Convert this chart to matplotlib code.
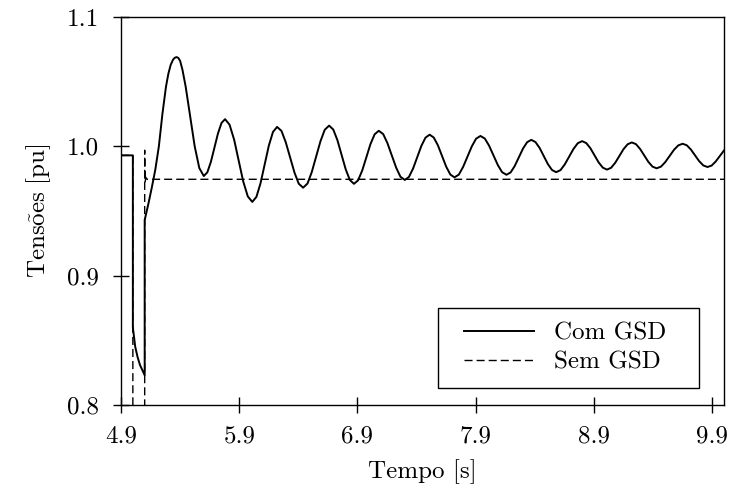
import matplotlib
matplotlib.use("Agg")
import matplotlib.pyplot as plt
from matplotlib.patches import Rectangle

plt.rcParams['font.family'] = 'serif'
plt.rcParams['font.serif'] = ['cmr10']
plt.rcParams['mathtext.fontset'] = 'cm'
plt.rcParams['axes.formatter.use_mathtext'] = True

# Com GSD (solid)
t_com = [4.9, 5.0, 5.0, 5.02, 5.04, 5.06, 5.08, 5.1,
         5.1, 5.13, 5.16, 5.19, 5.22, 5.25, 5.28, 5.30, 5.32, 5.34, 5.355, 5.37,
         5.385, 5.40, 5.42, 5.447, 5.485, 5.523, 5.562, 5.60,
         5.63, 5.66, 5.69, 5.72, 5.75, 5.78,
         5.818, 5.857, 5.895, 5.933, 5.972, 6.01,
         6.045, 6.08, 6.115, 6.15, 6.185, 6.22,
         6.257, 6.293, 6.33, 6.367, 6.403, 6.44,
         6.477, 6.513, 6.55, 6.587, 6.623, 6.66,
         6.695, 6.73, 6.765, 6.80, 6.835, 6.87,
         6.905, 6.94, 6.975, 7.01, 7.045, 7.08,
         7.117, 7.153, 7.19, 7.227, 7.263, 7.30,
         7.335, 7.37, 7.405, 7.44, 7.475, 7.51,
         7.545, 7.58, 7.615, 7.65, 7.685, 7.72,
         7.757, 7.793, 7.83, 7.867, 7.903, 7.94,
         7.977, 8.013, 8.05, 8.087, 8.123, 8.16,
         8.195, 8.23, 8.265, 8.30, 8.335, 8.37,
         8.405, 8.44, 8.475, 8.51, 8.545, 8.58,
         8.617, 8.653, 8.69, 8.727, 8.763, 8.80,
         8.835, 8.87, 8.905, 8.94, 8.975, 9.01,
         9.045, 9.08, 9.115, 9.15, 9.185, 9.22,
         9.255, 9.29, 9.325, 9.36, 9.395, 9.43,
         9.467, 9.503, 9.54, 9.577, 9.613, 9.65,
         9.685, 9.72, 9.755, 9.79, 9.825, 9.86,
         9.895, 9.93, 9.965, 10.0]
v_com = [0.993, 0.993, 0.860, 0.845, 0.837, 0.831, 0.827, 0.823,
         0.943, 0.955, 0.968, 0.982, 1.000, 1.025, 1.046, 1.056, 1.063, 1.067, 1.0685, 1.069,
         1.0683, 1.066, 1.059, 1.046, 1.023, 1.000, 0.9832, 0.977,
         0.9799, 0.988, 0.999, 1.010, 1.0181, 1.021,
         1.0167, 1.005, 0.989, 0.973, 0.9613, 0.957,
         0.9609, 0.9715, 0.986, 1.0005, 1.0111, 1.015,
         1.0119, 1.0032, 0.9915, 0.9797, 0.9711, 0.968,
         0.9712, 0.980, 0.992, 1.004, 1.0128, 1.016,
         1.013, 1.0048, 0.9935, 0.9823, 0.974, 0.971,
         0.9737, 0.9813, 0.9915, 1.0018, 1.0093, 1.012,
         1.0095, 1.0025, 0.993, 0.9835, 0.9765, 0.974,
         0.9763, 0.9828, 0.9915, 1.0003, 1.0067, 1.009,
         1.0068, 1.0008, 0.9925, 0.9843, 0.9782, 0.976,
         0.9781, 0.984, 0.992, 1.000, 1.0059, 1.008,
         1.006, 1.0005, 0.993, 0.9855, 0.980, 0.978,
         0.9798, 0.9848, 0.9915, 0.9983, 1.0032, 1.005,
         1.0033, 0.9988, 0.9925, 0.9863, 0.9817, 0.980,
         0.9816, 0.986, 0.992, 0.998, 1.0024, 1.004,
         1.0025, 0.9985, 0.993, 0.9875, 0.9835, 0.982,
         0.9834, 0.9873, 0.9925, 0.9978, 1.0016, 1.003,
         1.0017, 0.998, 0.993, 0.988, 0.9843, 0.983,
         0.9843, 0.9878, 0.9925, 0.9973, 1.0007, 1.002,
         1.0008, 0.9975, 0.993, 0.9885, 0.9852, 0.984,
         0.9851, 0.9883, 0.9925, 0.9968]

# Sem GSD (dashed)
t_sem = [4.9, 5.0, 5.0, 5.1, 5.1, 5.103, 5.11, 5.12, 10.0]
v_sem = [0.993, 0.993, 0.70, 0.70, 0.997, 0.972, 0.976, 0.9745, 0.9745]

xticks = [4.9, 5.9, 6.9, 7.9, 8.9, 9.9]
yticks = [0.8, 0.9, 1.0, 1.1]

fig = plt.figure(figsize=(7.3, 4.91), dpi=100)
ax = fig.add_axes([0.1658, 0.1752, 0.8260, 0.7902])

ax.plot(t_com, v_com, color='black', lw=1.4, label='Com GSD')
ax.plot(t_sem, v_sem, color='black', lw=1.0, dashes=(5.8, 2.9), label='Sem GSD')

ax.set_xlim(4.9, 10.0)
ax.set_ylim(0.8, 1.1)
ax.set_xticks(xticks)
ax.set_xticklabels([f'{x:.1f}' for x in xticks])
ax.set_yticks(yticks)
ax.set_yticklabels([f'{y:.1f}' for y in yticks])
ax.tick_params(direction='inout', length=12, width=1.0, labelsize=18, pad=9)
ax.tick_params(axis='y', pad=10)
for s in ax.spines.values():
    s.set_linewidth(1.0)

ax.set_xlabel('Tempo [s]', fontsize=18, labelpad=8)
ax.set_ylabel(r'$\mathrm{Tens\tilde{o}es\ [pu]}$', fontsize=18, labelpad=10)

# legend frame drawn separately (wider side padding than matplotlib's borderpad)
box = Rectangle((0.5257, 0.0438), 0.4328, 0.2062, transform=ax.transAxes,
                facecolor='white', edgecolor='black', lw=1.0, zorder=4.5)
ax.add_patch(box)
leg = ax.legend(loc='center', bbox_to_anchor=(0.737, 0.147), borderaxespad=0,
                borderpad=0, fontsize=18, handlelength=2.8, handletextpad=0.8,
                labelspacing=0.25, frameon=False)

fig.savefig('out.png', dpi=100)
